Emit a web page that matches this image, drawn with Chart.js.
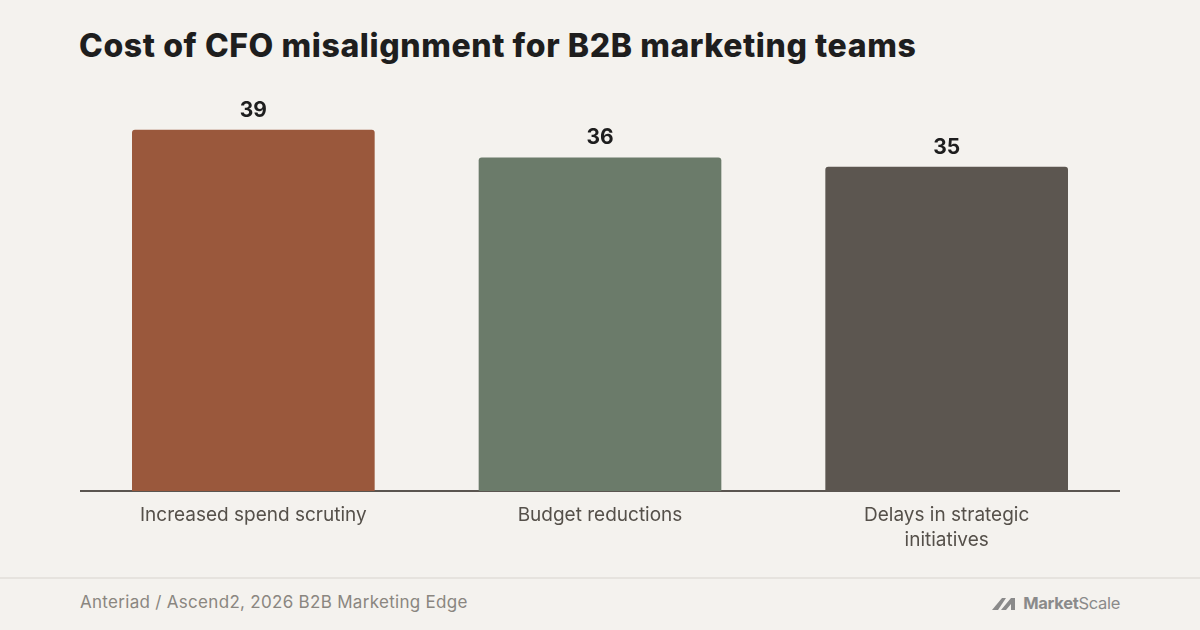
<!DOCTYPE html>
<html>
<head>
<meta charset="utf-8">
<script src="https://cdn.jsdelivr.net/npm/chart.js@4.4.1/dist/chart.umd.min.js"></script>
<style>
  html, body { margin: 0; padding: 0; }
  body { width: 1200px; height: 630px; background: #f4f2ee; position: relative; overflow: hidden; font-family: Inter, "Noto Sans", sans-serif; }
  h1 { position: absolute; left: 79px; top: 26px; margin: 0; font-size: 32px; font-weight: 800; color: #1e1e1e; letter-spacing: 0.6px; white-space: nowrap; }
  #wrap { position: absolute; left: 80px; top: 80px; width: 1040px; height: 480px; }
  .rule { position: absolute; left: 0; top: 577px; width: 1200px; height: 2px; background: #e6e3de; }
  .source { position: absolute; left: 80px; top: 592px; font-size: 17px; color: #8a8680; letter-spacing: 0.3px; }
  .logo { position: absolute; right: 80px; top: 593px; font-size: 16.5px; color: #8a8a8a; display: flex; align-items: center; gap: 3px; letter-spacing: -0.3px; }
  .logo b { font-weight: 700; }
</style>
</head>
<body>
<h1>Cost of CFO misalignment for B2B marketing teams</h1>
<div id="wrap"><canvas id="chart"></canvas></div>
<div class="rule"></div>
<div class="source">Anteriad / Ascend2, 2026 B2B Marketing Edge</div>
<div class="logo">
  <svg width="28" height="14" viewBox="0 0 28 14"><polygon points="0,14 10,2 14,2 6,14" fill="#8a8a8a"/><polygon points="9,14 19,2 23,2 23,14 19,14 19,8 14,14" fill="#8a8a8a"/></svg>
  <span><b>Market</b>Scale</span>
</div>
<script>
const categories = ['Increased spend scrutiny', 'Budget reductions', ['Delays in strategic', 'initiatives']];
const values = [39, 36, 35];
const barColors = ['#9a583c', '#6b7b6a', '#5c5650'];

document.addEventListener('DOMContentLoaded', function() {
    // etiquetas de valor acima das barras
    const valueLabels = {
        id: 'valueLabels',
        afterDatasetsDraw(chart) {
            const ctx = chart.ctx;
            const meta = chart.getDatasetMeta(0);
            ctx.save();
            ctx.font = 'bold 21px Inter, "Noto Sans", sans-serif';
            ctx.fillStyle = '#1e1e1e';
            ctx.textAlign = 'center';
            ctx.textBaseline = 'bottom';
            meta.data.forEach(function(bar, i) {
                ctx.fillText(values[i], bar.x, bar.y - 9);
            });
            ctx.restore();
        }
    };

    new Chart(document.getElementById('chart'), {
        type: 'bar',
        data: {
            labels: categories,
            datasets: [{
                data: values,
                backgroundColor: barColors,
                borderRadius: 3,
                borderSkipped: 'bottom',
                barPercentage: 0.7,
                categoryPercentage: 1
            }]
        },
        options: {
            responsive: true,
            maintainAspectRatio: false,
            animation: false,
            layout: { padding: { top: 22, left: 0, right: 0, bottom: 0 } },
            plugins: { legend: { display: false }, tooltip: { enabled: false } },
            scales: {
                x: {
                    grid: { display: false, drawTicks: false },
                    border: { display: true, color: '#5a5550', width: 2 },
                    ticks: {
                        color: '#55504a',
                        padding: 12,
                        font: { family: 'Inter, "Noto Sans", sans-serif', size: 19, lineHeight: 1.3 }
                    },
                    afterFit: function(scale) { scale.height = 69; }
                },
                y: {
                    display: false,
                    min: 0,
                    max: 42
                }
            }
        },
        plugins: [valueLabels]
    });
});
</script>
</body>
</html>
